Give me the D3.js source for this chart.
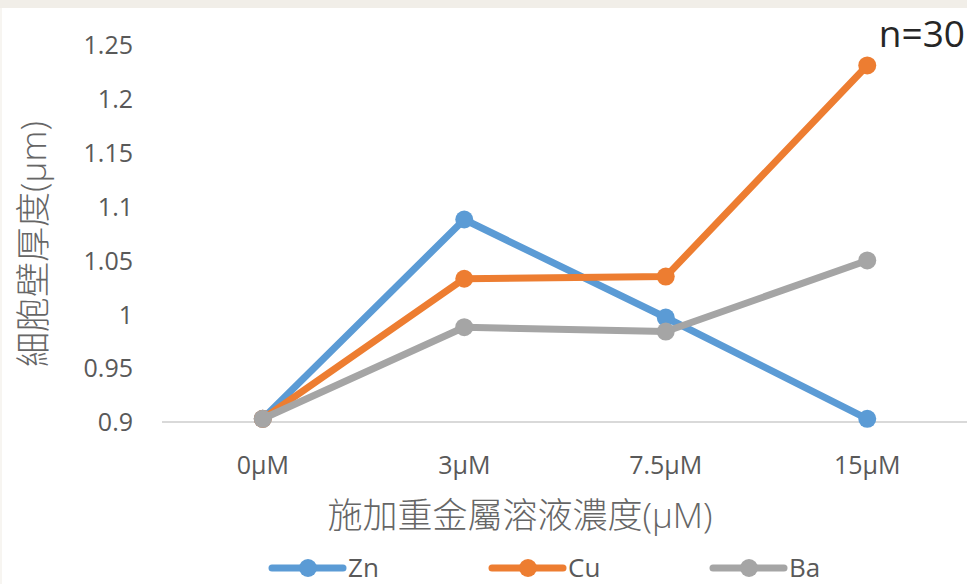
<!DOCTYPE html>
<html>
<head>
<meta charset="utf-8">
<script src="https://cdn.jsdelivr.net/npm/d3@7"></script>
<style>
  html, body { margin: 0; padding: 0; background: #ffffff; }
  svg { display: block; }
  text { font-family: "Open Sans", "Noto Sans CJK TC", sans-serif; }
</style>
</head>
<body>
<svg id="chart" width="967" height="584"></svg>
<script>
// Concentrations applied and the measured wall thickness (μm) for each metal
const categories = ["0μM", "3μM", "7.5μM", "15μM"];
const znValues = [0.903, 1.088, 0.997, 0.903];
const cuValues = [0.903, 1.033, 1.035, 1.231];
const baValues = [0.903, 0.988, 0.984, 1.050];
const seriesNames = ["Zn", "Cu", "Ba"];
const yTicks = [0.9, 0.95, 1, 1.05, 1.1, 1.15, 1.2, 1.25];
const yTickLabels = ["0.9", "0.95", "1", "1.05", "1.1", "1.15", "1.2", "1.25"];
const xTitle = "施加重金屬溶液濃度(μM)";
const yTitle = "細胞壁厚度(μm)";
const note = "n=30";

const colors = { Zn: "#5b9bd5", Cu: "#ed7d31", Ba: "#a5a5a5" };
const series = [
  { name: "Zn", values: znValues },
  { name: "Cu", values: cuValues },
  { name: "Ba", values: baValues }
];

const svg = d3.select("#chart");

// page frame: light strip along the top and left edge
svg.append("rect").attr("x", 0).attr("y", 0).attr("width", 967).attr("height", 584).attr("fill", "#ffffff");
svg.append("rect").attr("x", 0).attr("y", 0).attr("width", 967).attr("height", 8).attr("fill", "#f1eee8");
svg.append("rect").attr("x", 0).attr("y", 8).attr("width", 2).attr("height", 576).attr("fill", "#f7f5f1");

const x = d3.scaleBand().domain(categories).range([162, 968]).paddingInner(0).paddingOuter(0);
const cx = c => x(c) + x.bandwidth() / 2;
const y = d3.scaleLinear().domain([0.9, 1.25]).range([422, 45]);

// baseline at the axis minimum
svg.append("line")
  .attr("x1", x.range()[0]).attr("x2", x.range()[1])
  .attr("y1", y(0.9)).attr("y2", y(0.9))
  .attr("stroke", "#d9d9d9").attr("stroke-width", 2);

// y tick labels
const yAxis = d3.axisLeft(y).tickValues(yTicks)
  .tickFormat((d, i) => yTickLabels[i]).tickSize(0).tickPadding(0);
const gy = svg.append("g").attr("transform", "translate(133,0)").call(yAxis);
gy.select(".domain").remove();
gy.selectAll("text")
  .attr("fill", "#595959").attr("font-size", 25)
  .attr("font-family", "Open Sans").attr("dy", "0.35em");

// x tick labels
const xAxis = d3.axisBottom(x).tickSize(0).tickPadding(0);
const gx = svg.append("g").attr("transform", "translate(0,474)").call(xAxis);
gx.select(".domain").remove();
gx.selectAll("text")
  .attr("fill", "#595959").attr("font-size", 25)
  .attr("font-family", "Open Sans").attr("dy", 0).attr("y", 0);

// series lines and markers
const line = d3.line().x((d, i) => cx(categories[i])).y(d => y(d));
series.forEach(s => {
  svg.append("path")
    .datum(s.values)
    .attr("d", line)
    .attr("fill", "none")
    .attr("stroke", colors[s.name])
    .attr("stroke-width", 7)
    .attr("stroke-linejoin", "round")
    .attr("stroke-linecap", "round");
  svg.selectAll(null)
    .data(s.values)
    .enter().append("circle")
    .attr("cx", (d, i) => cx(categories[i]))
    .attr("cy", d => y(d))
    .attr("r", 9)
    .attr("fill", colors[s.name]);
});

// axis titles
svg.append("text")
  .attr("x", 520).attr("y", 514)
  .attr("text-anchor", "middle").attr("dominant-baseline", "central")
  .attr("font-size", 35).attr("fill", "#666666")
  .attr("font-family", "'Noto Sans CJK TC', 'Open Sans', sans-serif")
  .attr("font-weight", 300)
  .text(xTitle);

svg.append("text")
  .attr("transform", "translate(32,244) rotate(-90)")
  .attr("text-anchor", "middle").attr("dominant-baseline", "central")
  .attr("font-size", 35).attr("fill", "#666666")
  .attr("font-family", "'Noto Sans CJK TC', 'Open Sans', sans-serif")
  .attr("font-weight", 300)
  .text(yTitle);

// sample size note
svg.append("text")
  .attr("x", 965).attr("y", 47)
  .attr("text-anchor", "end")
  .attr("font-size", 37).attr("fill", "#262626")
  .attr("font-family", "Open Sans")
  .text(note);

// legend
const legendX = [272, 492, 713];
const legendY = 568;
seriesNames.forEach((name, i) => {
  const g = svg.append("g").attr("transform", `translate(${legendX[i]},${legendY})`);
  g.append("line").attr("x1", 0).attr("x2", 71).attr("y1", 0).attr("y2", 0)
    .attr("stroke", colors[name]).attr("stroke-width", 7).attr("stroke-linecap", "round");
  g.append("circle").attr("cx", 36).attr("cy", 0).attr("r", 9).attr("fill", colors[name]);
  g.append("text").attr("x", 76).attr("y", 9)
    .attr("font-size", 26).attr("fill", "#595959")
    .attr("font-family", "Open Sans")
    .text(name);
});
</script>
</body>
</html>
